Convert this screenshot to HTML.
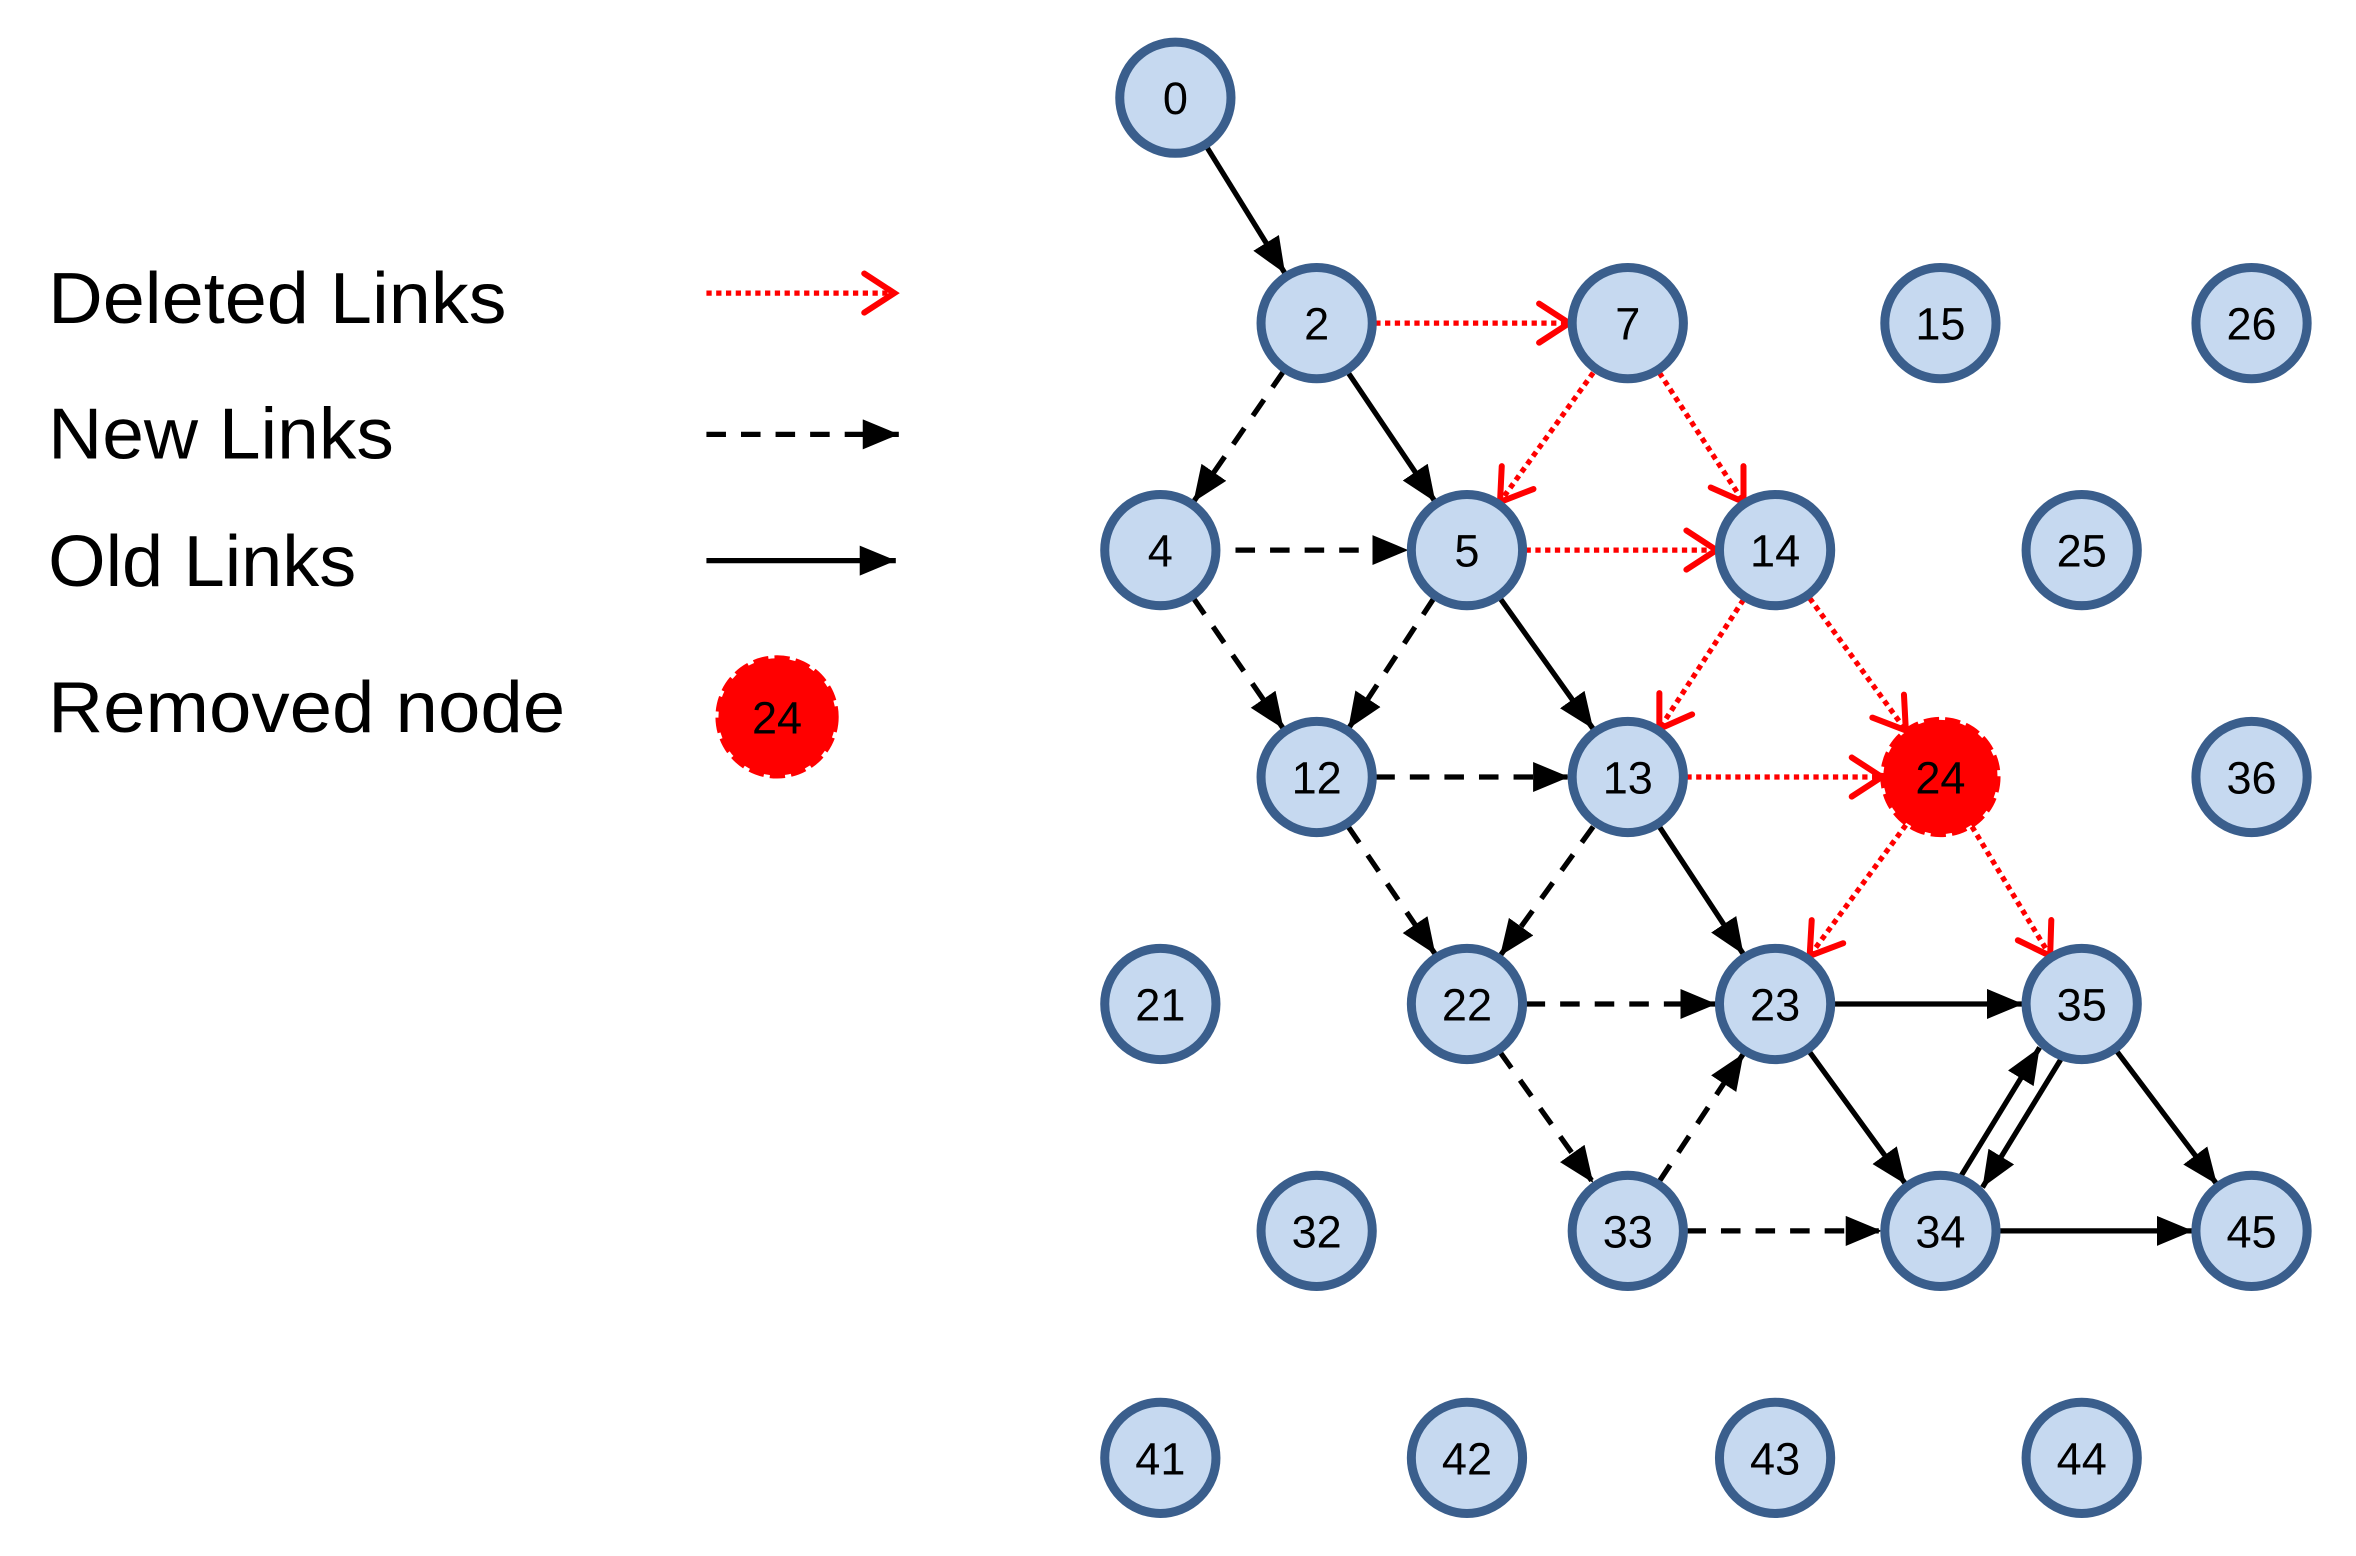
<!DOCTYPE html>
<html><head><meta charset="utf-8"><style>html,body{margin:0;padding:0;background:#fff}svg{display:block}</style></head>
<body>
<svg width="2356" height="1556" viewBox="0 0 1567.5 1035.3" preserveAspectRatio="none" xmlns="http://www.w3.org/2000/svg">
<defs>
<marker id="b" markerUnits="userSpaceOnUse" markerWidth="26" markerHeight="22" refX="24" refY="10" orient="auto"><path d="M0,0 L24,10 L0,20 Z" fill="#000"/></marker>
<marker id="r" markerUnits="userSpaceOnUse" markerWidth="28" markerHeight="32" refX="23" refY="15" orient="auto"><path d="M3,2 L23,15 L3,28" fill="none" stroke="#f00" stroke-width="4" stroke-linecap="round"/></marker>
</defs>
<g font-family="'Liberation Sans', sans-serif" font-size="48" fill="#000">
<text x="32" y="215" textLength="305" lengthAdjust="spacingAndGlyphs">Deleted Links</text>
<text x="32" y="305" textLength="230" lengthAdjust="spacingAndGlyphs">New Links</text>
<text x="32" y="390" textLength="205" lengthAdjust="spacingAndGlyphs">Old Links</text>
<text x="32" y="487" textLength="344" lengthAdjust="spacingAndGlyphs">Removed node</text>
</g>
<g stroke-width="3.5">
<line x1="470" y1="195" x2="595" y2="195" stroke="#f00" stroke-dasharray="3.5,3" marker-end="url(#r)"/>
<line x1="470" y1="289" x2="598" y2="289" stroke="#000" stroke-dasharray="13,10" marker-end="url(#b)"/>
<line x1="470" y1="373" x2="596" y2="373" stroke="#000" marker-end="url(#b)"/>
</g>
<g stroke="#000" stroke-width="3.5" marker-end="url(#b)">
<line x1="803" y1="98" x2="855" y2="182"/>
<line x1="897" y1="248" x2="955" y2="334"/>
<line x1="998" y1="398" x2="1060" y2="485"/>
<line x1="1104" y1="550" x2="1160" y2="635"/>
<line x1="1220" y1="668" x2="1346" y2="668"/>
<line x1="1204" y1="700" x2="1268" y2="788"/>
<line x1="1305" y1="782" x2="1357" y2="697"/>
<line x1="1371" y1="705" x2="1319" y2="790"/>
<line x1="1408" y1="699" x2="1475" y2="788"/>
<line x1="1330" y1="819" x2="1459" y2="819"/>
</g>
<g stroke="#000" stroke-width="3.5" stroke-dasharray="13,10" marker-end="url(#b)">
<line x1="854" y1="247" x2="794" y2="334"/>
<line x1="822" y1="366" x2="937" y2="366"/>
<line x1="794" y1="398" x2="854" y2="485"/>
<line x1="954" y1="398" x2="897" y2="485"/>
<line x1="915" y1="517" x2="1044" y2="517"/>
<line x1="897" y1="550" x2="955" y2="635"/>
<line x1="1060" y1="550" x2="998" y2="636"/>
<line x1="1015" y1="668" x2="1142" y2="668"/>
<line x1="998" y1="700" x2="1060" y2="787"/>
<line x1="1104" y1="786" x2="1160" y2="701"/>
<line x1="1122" y1="819" x2="1252" y2="819"/>
</g>
<g stroke="#f00" stroke-width="3.5" stroke-dasharray="3.5,3" marker-end="url(#r)">
<line x1="915" y1="215" x2="1044" y2="215"/>
<line x1="1060" y1="248" x2="998" y2="334"/>
<line x1="1104" y1="248" x2="1160" y2="334"/>
<line x1="1015" y1="366" x2="1142" y2="366"/>
<line x1="1160" y1="399" x2="1104" y2="485"/>
<line x1="1204" y1="398" x2="1268" y2="486"/>
<line x1="1122" y1="517" x2="1252" y2="517"/>
<line x1="1268" y1="549" x2="1204" y2="636"/>
<line x1="1312" y1="550" x2="1364" y2="636"/>
</g>
<g fill="#c6d9f0" stroke="#3a5e8c" stroke-width="6">
<circle cx="782" cy="65" r="37"/><circle cx="876" cy="215" r="37"/><circle cx="1083" cy="215" r="37"/><circle cx="1291" cy="215" r="37"/><circle cx="1498" cy="215" r="37"/>
<circle cx="772" cy="366" r="37"/><circle cx="976" cy="366" r="37"/><circle cx="1181" cy="366" r="37"/><circle cx="1385" cy="366" r="37"/>
<circle cx="876" cy="517" r="37"/><circle cx="1083" cy="517" r="37"/><circle cx="1498" cy="517" r="37"/>
<circle cx="772" cy="668" r="37"/><circle cx="976" cy="668" r="37"/><circle cx="1181" cy="668" r="37"/><circle cx="1385" cy="668" r="37"/>
<circle cx="876" cy="819" r="37"/><circle cx="1083" cy="819" r="37"/><circle cx="1291" cy="819" r="37"/><circle cx="1498" cy="819" r="37"/>
<circle cx="772" cy="970" r="37"/><circle cx="976" cy="970" r="37"/><circle cx="1181" cy="970" r="37"/><circle cx="1385" cy="970" r="37"/>
</g>
<g fill="#f00" stroke="#f00" stroke-width="4" stroke-dasharray="10,4">
<circle cx="1291" cy="517" r="38"/>
<circle cx="517" cy="477" r="39"/>
</g>
<g font-family="'Liberation Sans', sans-serif" font-size="30" text-anchor="middle" fill="#000">
<text x="782" y="76">0</text><text x="876" y="226">2</text><text x="1083" y="226">7</text><text x="1291" y="226">15</text><text x="1498" y="226">26</text>
<text x="772" y="377">4</text><text x="976" y="377">5</text><text x="1181" y="377">14</text><text x="1385" y="377">25</text>
<text x="876" y="528">12</text><text x="1083" y="528">13</text><text x="1291" y="528">24</text><text x="1498" y="528">36</text>
<text x="772" y="679">21</text><text x="976" y="679">22</text><text x="1181" y="679">23</text><text x="1385" y="679">35</text>
<text x="876" y="830">32</text><text x="1083" y="830">33</text><text x="1291" y="830">34</text><text x="1498" y="830">45</text>
<text x="772" y="981">41</text><text x="976" y="981">42</text><text x="1181" y="981">43</text><text x="1385" y="981">44</text>
<text x="517" y="488">24</text>
</g>
</svg>
</body></html>
